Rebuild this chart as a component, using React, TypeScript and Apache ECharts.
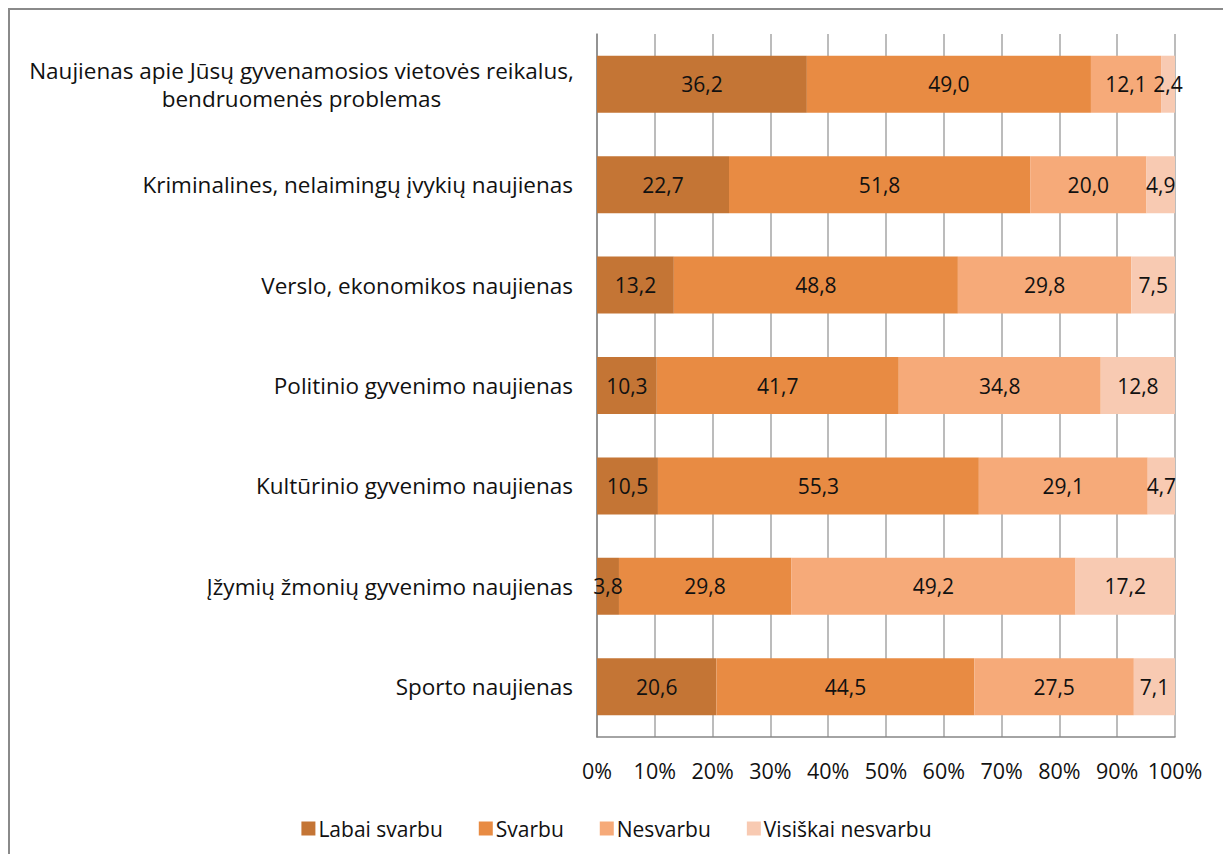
import React, { useEffect, useRef } from "react";
import * as echarts from "echarts";

const categories = [
  "Naujienas apie Jūsų gyvenamosios vietovės reikalus,\nbendruomenės problemas",
  "Kriminalines, nelaimingų įvykių naujienas",
  "Verslo, ekonomikos naujienas",
  "Politinio gyvenimo naujienas",
  "Kultūrinio gyvenimo naujienas",
  "Įžymių žmonių gyvenimo naujienas",
  "Sporto naujienas",
];

const seriesNames = ["Labai svarbu", "Svarbu", "Nesvarbu", "Visiškai nesvarbu"];

const labaiSvarbu = [36.2, 22.7, 13.2, 10.3, 10.5, 3.8, 20.6];
const svarbu = [49.0, 51.8, 48.8, 41.7, 55.3, 29.8, 44.5];
const nesvarbu = [12.1, 20.0, 29.8, 34.8, 29.1, 49.2, 27.5];
const visiskaiNesvarbu = [2.4, 4.9, 7.5, 12.8, 4.7, 17.2, 7.1];

const xTickLabels = ["0%", "10%", "20%", "30%", "40%", "50%", "60%", "70%", "80%", "90%", "100%"];

const colors = ["#C47535", "#E88B43", "#F6AA79", "#F8CAB2"];

const FONT = "Open Sans";
const FS = 21;
const FS_Y = 22.5;

export default function App() {
  const ref = useRef<HTMLDivElement>(null);

  useEffect(() => {
    if (!ref.current) return;
    const chart = echarts.init(ref.current, undefined, { renderer: "svg" });
    const raw = [labaiSvarbu, svarbu, nesvarbu, visiskaiNesvarbu];
    const totals = categories.map((_, i) => raw.reduce((s, arr) => s + arr[i], 0));

    const series = raw.map((arr, si) => ({
      name: seriesNames[si],
      type: "bar",
      stack: "total",
      barWidth: 57,
      itemStyle: { color: colors[si] },
      label: {
        show: true,
        position: "inside",
        color: "#111",
        fontFamily: FONT,
        fontSize: FS,
        formatter: (p: any) => raw[si][p.dataIndex].toFixed(1).replace(".", ","),
      },
      data: arr.map((v, i) => (v / totals[i]) * 100),
    }));

    chart.setOption({
      animation: false,
      textStyle: { fontFamily: FONT },
      legend: {
        data: seriesNames,
        bottom: 10,
        left: "center",
        itemWidth: 14,
        itemHeight: 14,
        itemGap: 36,
        icon: "rect",
        textStyle: { fontFamily: FONT, fontSize: FS, color: "#111", padding: [0, 0, 0, -2] },
      },
      grid: { left: 587, right: 48, top: 24, bottom: 117, containLabel: false },
      xAxis: {
        type: "value",
        min: 0,
        max: 100,
        interval: 10,
        axisLine: { show: true, lineStyle: { color: "#868686", width: 1.5 } },
        axisTick: { show: false },
        splitLine: { show: true, lineStyle: { color: "#a6a6a6", width: 1.5 } },
        axisLabel: {
          margin: 22,
          fontFamily: FONT,
          fontSize: 21.5,
          color: "#111",
          formatter: (v: number) => xTickLabels[Math.round(v / 10)],
        },
      },
      yAxis: {
        type: "category",
        data: categories,
        inverse: true,
        axisLine: { show: true, lineStyle: { color: "#868686", width: 1.5 } },
        axisTick: { show: false },
        axisLabel: {
          margin: 24,
          fontFamily: FONT,
          fontSize: FS_Y,
          color: "#111",
          lineHeight: 28,
          formatter: (v: string) => {
            if (v.indexOf("\n") >= 0) {
              const [a, b] = v.split("\n");
              return `{c|${a}}\n{c|${b}}`;
            }
            return v;
          },
          rich: {
            c: { width: 543, align: "center", fontFamily: FONT, fontSize: FS_Y, color: "#111", lineHeight: 28 },
          },
        },
      },
      series,
    });
    return () => chart.dispose();
  }, []);

  return (
    <div
      style={{
        width: 1215,
        height: 846,
        borderTop: "2px solid #8a8a8a",
        borderLeft: "2px solid #8a8a8a",
        boxSizing: "border-box",
      }}
    >
      <div ref={ref} style={{ width: 1213, height: 844 }} />
    </div>
  );
}
